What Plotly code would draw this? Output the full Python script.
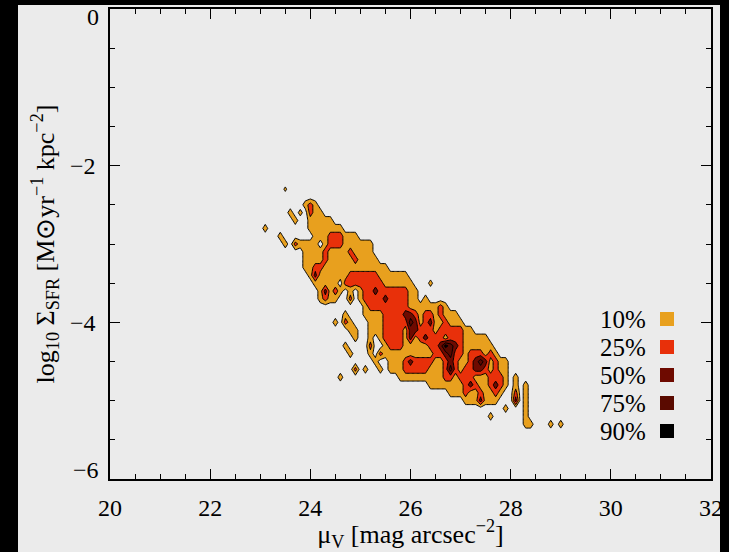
import numpy as np
import plotly.graph_objects as go

# ---------------- data ----------------
# density grid: bins of 0.1 mag (x) by 0.1 dex (y)
MU_FIRST, MU_STEP, MU_COUNT = 23.0, 0.1, 63
LOGS_FIRST, LOGS_STEP, LOGS_COUNT = -2.2, -0.1, 35

# each row: first occupied column and the level code of the cells from there on
# '.'=below 10%, ','/';' = faint single bins, 1..5 = 10%,25%,50%,75%,90% levels
ROW_START = [0, 5, 0, 9, 6, 7, 1, 4, 5, 9, 9, 9, 10, 11, 12, 12, 21, 17,
             15, 18, 19, 17, 18, 23, 19, 16, 34, 38, 41, 49, 46, 53, 0, 0, 0]
ROW_CELLS = [
    "",
    ",",
    "",
    "121",
    "1.;.211",
    "1..11111",
    "1" + "." * 8 + "1111111",
    "1" + "." * 6 + "111222111",
    "1.21111.1222111111",
    "11112111121111",
    "111121111121111",
    "11221111111111111",
    "13111111222222111111",
    "11111.22222222111111...;",
    "13121.1.122322222211",
    "1211..2.122223222211.1",
    "12222222211111121",
    "1...1111222233212212111",
    "1.21...1112222243123112111",
    "11..111222213322212222211",
    "1..1.1222213123222122211111",
    "1....2..1222111112235432111111",
    "1...1.211111111112234221222121",
    "1..111232222112321123431211",
    "2.1..1.111222221112421223321211",
    "1" + "." * 11 + "1111111112212221112221.1",
    "1111111232112321.1.1",
    "11121121121..2.1",
    "1113111...3.1",
    "1...1",
    "1......1",
    "11...1.1",
    "",
    "",
    "",
]
CELL_VALUE = {".": 0.0, ",": 0.7, ";": 0.85, "1": 1.0, "2": 2.0,
              "3": 3.0, "4": 4.0, "5": 5.0}

LEGEND_LABELS = ["10%", "25%", "50%", "75%", "90%"]
LEVEL_COLORS = ["#e8a01e", "#e8300a", "#6e0a00", "#5a0a00", "#000000"]
X_TICKS = [20, 22, 24, 26, 28, 30, 32]
Y_TICKS = [-6, -4, -2, 0]
Y_TICKTEXT = ["−6", "−4", "−2", "0"]

BG = "#ebebeb"
FONT = "Liberation Serif, Times New Roman, serif"

# ---------------- build grid ----------------
mu = np.round(MU_FIRST + MU_STEP * np.arange(MU_COUNT), 2)
logs = np.round(LOGS_FIRST + LOGS_STEP * np.arange(LOGS_COUNT), 2)
Z = np.zeros((LOGS_COUNT, MU_COUNT))
for j, (s, cells) in enumerate(zip(ROW_START, ROW_CELLS)):
    for k, ch in enumerate(cells):
        Z[j, s + k] = CELL_VALUE[ch]

colorscale = [[0.0, BG], [0.1, BG]]
edges = [0.1, 0.3, 0.5, 0.7, 0.9, 1.0]
for c, a, b in zip(LEVEL_COLORS, edges[:-1], edges[1:]):
    colorscale += [[a, c], [b, c]]

fig = go.Figure()
fig.add_trace(go.Contour(
    x=mu, y=logs, z=Z,
    autocontour=False,
    contours=dict(start=0.5, end=4.5, size=1, coloring="fill"),
    colorscale=colorscale, showscale=False,
    line=dict(color="black", width=1, smoothing=0),
    hoverinfo="skip",
))

# ---------------- layout ----------------
W, H = 729, 552
L, R, T, B = 110, 18, 9, 73
pw, ph = W - L - R, H - T - B


def px_x(p):
    return (p - L) / pw


def px_y(p):
    return (H - B - p) / ph


axis_common = dict(
    showline=True, linecolor="black", linewidth=1.5, mirror="ticks",
    ticks="inside", ticklen=10, tickwidth=1.2, tickcolor="black",
    showgrid=False, zeroline=False, ticklabeloverflow="allow",
    automargin=False,
    tickfont=dict(family=FONT, size=24, color="black"),
    minor=dict(ticks="inside", ticklen=5, tickwidth=1, tickcolor="black", dtick=0.5),
)

# the two end labels of the y axis sit slightly inside the frame, as in the reference
inner_labels = ["" if v in (Y_TICKS[0], Y_TICKS[-1]) else t for v, t in zip(Y_TICKS, Y_TICKTEXT)]

fig.update_layout(
    width=W, height=H, autosize=False,
    margin=dict(l=L, r=R, t=T, b=B, autoexpand=False),
    paper_bgcolor=BG, plot_bgcolor=BG,
    showlegend=False,
    font=dict(family=FONT, color="black"),
    xaxis=dict(range=[20, 32], tickvals=X_TICKS, ticklabelstandoff=6,
               title=dict(text="μ<sub>V</sub> [mag arcsec<sup>−2</sup>]",
                          font=dict(family=FONT, size=26, color="black"), standoff=8),
               **axis_common),
    yaxis=dict(range=[-6, 0], tickvals=Y_TICKS, ticktext=inner_labels, ticklabelstandoff=8,
               title=dict(text="log<sub>10</sub> Σ<sub>SFR</sub> [M⊙yr<sup>−1</sup> kpc<sup>−2</sup>]",
                          font=dict(family=FONT, size=26, color="black"), standoff=8),
               **axis_common),
)

annotations = []
shapes = []
for v, t, ypx in [(Y_TICKS[-1], Y_TICKTEXT[-1], 17), (Y_TICKS[0], Y_TICKTEXT[0], 470)]:
    annotations.append(dict(
        x=px_x(101), y=px_y(ypx), xref="paper", yref="paper",
        xanchor="right", yanchor="middle", showarrow=False, text=t,
        font=dict(family=FONT, size=24, color="black")))

# legend: labels with coloured squares
for k, (lab, col) in enumerate(zip(LEGEND_LABELS, LEVEL_COLORS)):
    yc = 319 + 28 * k
    annotations.append(dict(
        x=px_x(648), y=px_y(yc), xref="paper", yref="paper",
        xanchor="right", yanchor="middle", showarrow=False, text=lab,
        font=dict(family=FONT, size=25, color="black")))
    shapes.append(dict(type="rect", xref="paper", yref="paper",
                       x0=px_x(660), x1=px_x(674), y0=px_y(yc + 7), y1=px_y(yc - 7),
                       fillcolor=col, line=dict(width=0), layer="above"))

# black frame strips around the picture
for x0, x1, y0, y1 in [(0, 18, 0, H), (0, W, 0, 5), (720, W, 0, H)]:
    shapes.append(dict(type="rect", xref="paper", yref="paper",
                       x0=px_x(x0), x1=px_x(x1), y0=px_y(y1), y1=px_y(y0),
                       fillcolor="black", line=dict(width=0), layer="above"))

fig.update_layout(annotations=annotations, shapes=shapes)
fig.write_html("out.html", config={"displayModeBar": False},
               post_script="document.body.style.margin='0';document.body.style.padding='0';")
